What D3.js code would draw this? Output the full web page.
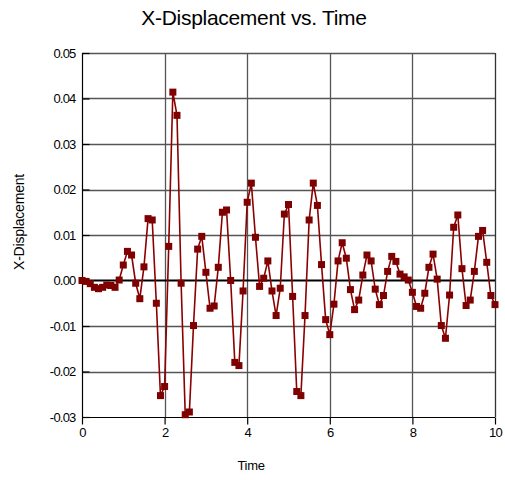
<!DOCTYPE html>
<html>
<head>
<meta charset="utf-8">
<script src="https://cdn.jsdelivr.net/npm/d3@7"></script>
<style>
  html, body { margin: 0; padding: 0; background: #fff; }
  svg { display: block; font-family: "Liberation Sans", Arial, sans-serif; }
</style>
</head>
<body>
<svg id="chart" width="505" height="480"></svg>
<script>
const title = "X-Displacement vs. Time";
const xLabel = "Time";
const yLabel = "X-Displacement";
const xTicks = [0, 2, 4, 6, 8, 10];
const yTicks = [0.05, 0.04, 0.03, 0.02, 0.01, 0.00, -0.01, -0.02, -0.03];
const yTickLabels = ["0.05", "0.04", "0.03", "0.02", "0.01", "0.00", "-0.01", "-0.02", "-0.03"];
const times = d3.range(0, 101).map(i => +(i * 0.1).toFixed(1));
const displacement = [
  0.0000, -0.0002, -0.0007, -0.0015, -0.0018, -0.0015, -0.0010, -0.0011, -0.0015, 0.0001,
  0.0034, 0.0064, 0.0056, -0.0006, -0.0040, 0.0030, 0.0136, 0.0133, -0.0050, -0.0253,
  -0.0233, 0.0075, 0.0414, 0.0363, -0.0006, -0.0295, -0.0289, -0.0099, 0.0069, 0.0097,
  0.0018, -0.0061, -0.0056, 0.0029, 0.0150, 0.0155, 0.0000, -0.0180, -0.0187, -0.0023,
  0.0172, 0.0214, 0.0095, -0.0013, 0.0005, 0.0043, -0.0023, -0.0077, -0.0017, 0.0146,
  0.0167, -0.0035, -0.0244, -0.0253, -0.0077, 0.0133, 0.0214, 0.0165, 0.0035, -0.0086,
  -0.0119, -0.0052, 0.0043, 0.0083, 0.0049, -0.0020, -0.0064, -0.0043, 0.0012, 0.0056,
  0.0043, -0.0019, -0.0053, -0.0033, 0.0020, 0.0053, 0.0042, 0.0014, 0.0008, 0.0001,
  -0.0026, -0.0057, -0.0061, -0.0028, 0.0029, 0.0058, 0.0003, -0.0099, -0.0127, -0.0032,
  0.0117, 0.0144, 0.0026, -0.0055, -0.0043, 0.0020, 0.0097, 0.0110, 0.0040, -0.0033,
  -0.0053
];

const svg = d3.select("#chart");
const mLeft = 82, mRight = 495, mTop = 53, mBottom = 417;
const x = d3.scaleLinear().domain([0, 10]).range([mLeft, mRight]);
const y = d3.scaleLinear().domain([-0.03, 0.05]).range([mBottom, mTop]);

// gridlines
const grid = svg.append("g");
grid.selectAll("line.h").data(yTicks.filter(v => v !== 0 && v !== -0.03)).enter().append("line")
  .attr("x1", mLeft).attr("x2", mRight)
  .attr("y1", d => Math.round(y(d)) + 0.5).attr("y2", d => Math.round(y(d)) + 0.5)
  .attr("stroke", "#555").attr("stroke-width", 1.3);
grid.selectAll("line.v").data(xTicks.filter(v => v !== 0 && v !== 10)).enter().append("line")
  .attr("y1", mTop).attr("y2", mBottom)
  .attr("x1", d => Math.round(x(d)) + 0.5).attr("x2", d => Math.round(x(d)) + 0.5)
  .attr("stroke", "#555").attr("stroke-width", 1.3);
// right border
svg.append("line").attr("x1", mRight + 0.5).attr("x2", mRight + 0.5).attr("y1", mTop).attr("y2", mBottom)
  .attr("stroke", "#333").attr("stroke-width", 1.3);

// axes
const yAxis = d3.axisLeft(y).tickValues(yTicks).tickSize(-7).tickPadding(7)
  .tickFormat((d, i) => yTickLabels[i]);
const gy = svg.append("g").attr("transform", `translate(${mLeft + 0.5},0)`).call(yAxis);
const xAxis = d3.axisBottom(x).tickValues(xTicks).tickSize(7).tickPadding(3).tickFormat(d3.format("d"));
const gx = svg.append("g").attr("transform", `translate(0,${mBottom + 0.5})`).call(xAxis);
[gx, gy].forEach(g => {
  g.select(".domain").attr("stroke", "#000").attr("stroke-width", 1.2);
  g.selectAll(".tick line").attr("stroke", "#000").attr("stroke-width", 1.2);
  g.selectAll(".tick text").attr("fill", "#000").style("font-size", "13px")
    .style("letter-spacing", "-0.8px").style("font-family", "'Liberation Sans', Arial, sans-serif");
});
gy.select(".domain").attr("d", `M0,${mTop}V${mBottom}`);
gx.select(".domain").attr("d", `M${mLeft},0H${mRight}`);

// zero line
svg.append("line").attr("x1", mLeft).attr("x2", mRight)
  .attr("y1", y(0)).attr("y2", y(0)).attr("stroke", "#000").attr("stroke-width", 2);

// series
const pts = times.map((t, i) => [t, displacement[i]]);
const line = d3.line().x(d => x(d[0])).y(d => y(d[1]));
svg.append("path").datum(pts).attr("d", line).attr("fill", "none")
  .attr("stroke", "#8b0000").attr("stroke-width", 1.6);
const ms = 7;
svg.append("g").selectAll("rect").data(pts).enter().append("rect")
  .attr("x", d => x(d[0]) - ms / 2).attr("y", d => y(d[1]) - ms / 2)
  .attr("width", ms).attr("height", ms).attr("fill", "#7f0000");

// titles
svg.append("text").attr("x", 254).attr("y", 25).attr("text-anchor", "middle")
  .style("font-size", "21px").style("letter-spacing", "-0.3px").attr("fill", "#000").text(title);
svg.append("text").attr("x", 251).attr("y", 470).attr("text-anchor", "middle")
  .style("font-size", "13px").style("letter-spacing", "-0.3px").attr("fill", "#000").text(xLabel);
svg.append("text").attr("transform", "translate(24,222) rotate(-90)").attr("text-anchor", "middle")
  .style("font-size", "14px").style("letter-spacing", "-0.2px").attr("fill", "#000").text(yLabel);
</script>
</body>
</html>
